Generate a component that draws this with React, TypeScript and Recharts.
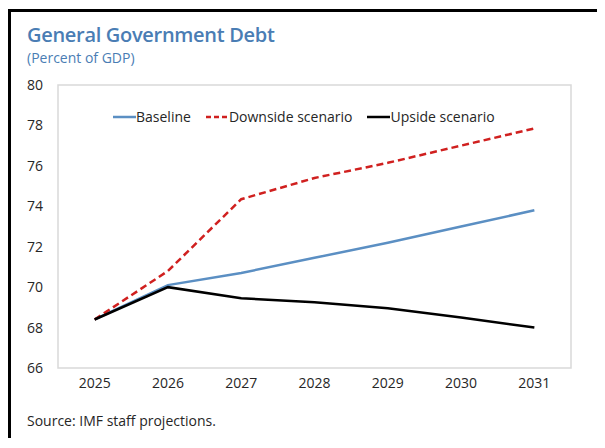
import React from 'react';
import {
  LineChart,
  Line,
  XAxis,
  YAxis,
  Legend,
  ReferenceArea,
} from 'recharts';

const years = [2025, 2026, 2027, 2028, 2029, 2030, 2031];
const baseline = [68.4, 70.1, 70.7, 71.45, 72.2, 73.0, 73.8];
const downside = [68.4, 70.8, 74.35, 75.4, 76.15, 77.0, 77.85];
const upside = [68.4, 70.0, 69.45, 69.25, 68.95, 68.5, 68.0];
const yTicks = [66, 68, 70, 72, 74, 76, 78, 80];
const xTickMarks = [2025.5, 2026.5, 2027.5, 2028.5, 2029.5, 2030.5];

const data = years.map((year, i) => ({
  year,
  baseline: baseline[i],
  downside: downside[i],
  upside: upside[i],
}));

const FONT = '"Open Sans", "Noto Sans", sans-serif';
const TEXT = '#262626';
const GRID = '#d9d9d9';

const dashes: Record<string, string | undefined> = {
  baseline: undefined,
  downside: '5 3',
  upside: undefined,
};

const LegendContent = ({ payload }: any) => (
  <div style={{ display: 'flex', alignItems: 'center', gap: 15 }}>
    {(payload || []).map((entry: any) => (
      <div
        key={entry.dataKey}
        style={{ display: 'flex', alignItems: 'center', fontSize: 14, color: TEXT }}
      >
        <svg width={23} height={10}>
          <line
            x1={0}
            y1={5}
            x2={23}
            y2={5}
            stroke={entry.color}
            strokeWidth={2.5}
            strokeDasharray={dashes[entry.dataKey]}
          />
        </svg>
        <span>{entry.value}</span>
      </div>
    ))}
  </div>
);

export default function App() {
  return (
    <div style={{ position: 'relative', width: 597, height: 430, fontFamily: FONT }}>
      <div style={{ position: 'absolute', left: 0, top: 1, width: 597, height: 3, background: '#000' }} />
      <div style={{ position: 'absolute', left: 0, top: 1, width: 3, height: 439, background: '#000' }} />
      <div
        style={{
          position: 'absolute',
          left: 19,
          top: 16,
          fontSize: 20,
          lineHeight: '22px',
          fontWeight: 600,
          letterSpacing: -0.3,
          color: '#4a7db4',
          whiteSpace: 'nowrap',
        }}
      >
        General Government Debt
      </div>
      <div
        style={{
          position: 'absolute',
          left: 19,
          top: 41,
          fontSize: 14,
          lineHeight: '18px',
          color: '#4a7db4',
          whiteSpace: 'nowrap',
        }}
      >
        (Percent of GDP)
      </div>
      <LineChart
        width={597}
        height={430}
        data={data}
        margin={{ top: 77, right: 34, left: 10, bottom: 40 }}
        style={{ position: 'absolute', left: 0, top: 0 }}
      >
        <ReferenceArea y1={66} y2={80} fill="none" stroke={GRID} strokeWidth={1.5} />
        <XAxis
          dataKey="year"
          type="number"
          domain={[2024.5, 2031.5]}
          ticks={years}
          interval={0}
          tickLine={false}
          axisLine={false}
          tickMargin={4}
          height={30}
          tick={{ fill: TEXT, fontSize: 14, fontFamily: FONT }}
        />
        <XAxis
          xAxisId="marks"
          dataKey="year"
          type="number"
          domain={[2024.5, 2031.5]}
          ticks={xTickMarks}
          interval={0}
          mirror
          height={0}
          tick={false}
          tickSize={5}
          axisLine={false}
          tickLine={{ stroke: GRID, strokeWidth: 1.5 }}
        />
        <YAxis
          domain={[66, 80]}
          ticks={yTicks}
          interval={0}
          width={40}
          tickLine={false}
          axisLine={false}
          tickSize={0}
          tickMargin={15}
          tick={{ fill: TEXT, fontSize: 14, fontFamily: FONT }}
        />
        <YAxis
          yAxisId="marks"
          domain={[66, 80]}
          ticks={yTicks}
          interval={0}
          mirror
          width={0}
          tick={false}
          tickSize={5}
          axisLine={false}
          tickLine={{ stroke: GRID, strokeWidth: 1.5 }}
        />
        <Legend
          verticalAlign="middle"
          align="center"
          layout="horizontal"
          content={<LegendContent />}
          wrapperStyle={{ top: 99, left: 105, width: 420, height: 20 }}
        />
        <Line
          dataKey="baseline"
          name="Baseline"
          stroke="#5b8fc3"
          strokeWidth={2.5}
          dot={false}
          isAnimationActive={false}
        />
        <Line
          dataKey="downside"
          name="Downside scenario"
          stroke="#d0201f"
          strokeWidth={2.5}
          strokeDasharray="7 4"
          dot={false}
          isAnimationActive={false}
        />
        <Line
          dataKey="upside"
          name="Upside scenario"
          stroke="#000000"
          strokeWidth={2.5}
          dot={false}
          isAnimationActive={false}
        />
      </LineChart>
      <div
        style={{
          position: 'absolute',
          left: 19,
          top: 404,
          fontSize: 14,
          lineHeight: '18px',
          color: TEXT,
          whiteSpace: 'nowrap',
        }}
      >
        Source: IMF staff projections.
      </div>
    </div>
  );
}
